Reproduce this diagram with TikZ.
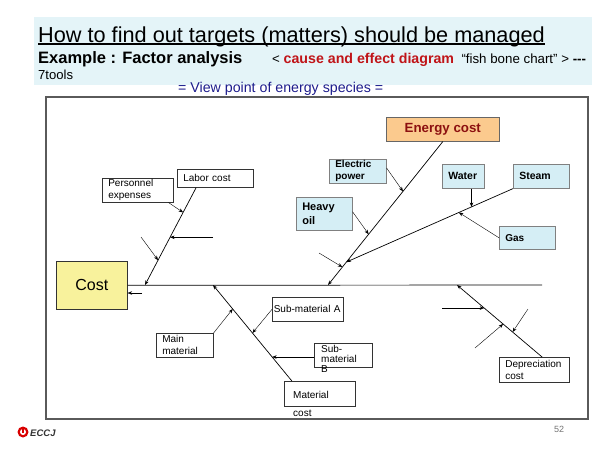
\documentclass[tikz,border=0pt]{standalone}
\usepackage{fontspec}
\setmainfont{Liberation Sans}
\usetikzlibrary{arrows.meta,calc}
\definecolor{headbg}{HTML}{E4F4F8}
\definecolor{boxblue}{HTML}{D5EEF5}
\definecolor{costyellow}{HTML}{F8F29C}
\definecolor{energyorange}{HTML}{FBCA8E}
\definecolor{darkred}{HTML}{8C1010}
\definecolor{causered}{HTML}{C01418}
\definecolor{navy}{HTML}{1C1C8C}
\definecolor{framegray}{HTML}{5A5A5A}

\begin{document}
\begin{tikzpicture}[x=1pt,y=-1pt,
    >={Stealth[length=4.5pt,width=3.5pt]},
    bone/.style={line width=0.7pt},
    box/.style={draw=black!80, line width=0.6pt, anchor=north west, inner xsep=6pt, inner ysep=0pt, align=left, font=\fontsize{10}{12}\selectfont},
    bluebox/.style={box, draw=black!50, fill=boxblue, font=\bfseries\fontsize{10.5}{12}\selectfont},
    head/.style={anchor=base west, inner sep=0pt}]
                \useasboundingbox (0,0) rectangle (600,450);

                \fill[headbg] (34,17) rectangle (592,85);
                \node[head, font=\fontsize{21.7}{24}\selectfont] (title) at (38,42) {How to find out targets (matters) should be managed};
                \draw[line width=1.1pt] ([yshift=-2pt]title.base west) -- ([yshift=-2pt]title.base east);
                \node[head, font=\bfseries\fontsize{16.5}{18}\selectfont] (example) at (38,63) {Example : Factor analysis};
                \node[head, font=\fontsize{13.3}{15}\selectfont] (tools) at (272,63) {< {\color{causered}\bfseries\fontsize{14.2}{15}\selectfont cause and effect diagram}\ \ “fish bone chart” > {\bfseries -{}-{}-}};
                \node[head, font=\fontsize{13.1}{15}\selectfont] (seven) at (38,79) {7tools};
                \node[head, font=\fontsize{14.2}{16}\selectfont, text=navy] (view) at (178,92) {= View point of energy species =};

                \draw[framegray, line width=1.1pt] (46,97) rectangle (588,419);

                \node[box, fill=costyellow, align=center, minimum width=71pt, minimum height=48pt, font=\fontsize{16}{18}\selectfont] (cost) at (56,261) {Cost};
                \coordinate (spR) at (542,285);
                \draw[bone] (cost.east) -- (spR);

                \node[box, text width=59pt, minimum height=24pt] (pers) at (102,178) {Personnel\\expenses};
                \node[box, text width=64pt, minimum height=18pt] (labor) at (177,169) {Labor cost};
                \coordinate (labS) at ($(labor.south west)!0.25!(labor.south east)$);
                \coordinate (labJ) at (145,285);
                \draw[bone,->] (labS) -- (labJ);
                \coordinate (l1) at ($(labS)!0.255!(labJ)$);
                \coordinate (l2) at ($(labS)!0.51!(labJ)$);
                \coordinate (l3) at ($(labS)!0.745!(labJ)$);
                \coordinate (f1) at ($(l2)+(43,0)$);
                \coordinate (f2) at (141,237);
                \coordinate (f3) at (142,293);
                \draw[->] ([xshift=-5pt]pers.south east) -- (l1);
                \draw[->] (f1) -- (l2);
                \draw[->] (f2) -- (l3);
                \draw[->] (f3) -- (cost.east |- f3);

                \node[box, fill=energyorange, draw=black!60, align=center, minimum width=113pt, minimum height=24pt, font=\bfseries\fontsize{13.3}{15}\selectfont, text=darkred] (energy) at (386,117) {Energy cost};
                \coordinate (enJ) at (328,285);
                \draw[bone,->] (energy.south) -- (enJ);
                \node[bluebox, text width=45pt, minimum height=24pt, font=\bfseries\fontsize{10}{12}\selectfont] (elec) at (329,159) {Electric\\power};
                \node[bluebox, text width=44pt, minimum height=33pt, font=\bfseries\fontsize{11}{14}\selectfont] (heavy) at (296,197) {Heavy\\oil};
                \node[bluebox, text width=30pt, minimum height=24pt] (water) at (442,164) {Water};
                \node[bluebox, text width=44pt, minimum height=24pt] (steam) at (513,164) {Steam};
                \node[bluebox, text width=44pt, minimum height=23pt, font=\bfseries\fontsize{10}{12}\selectfont] (gas) at (499,226) {Gas};
                \coordinate (enK) at ($(energy.south)!0.84!(enJ)$);
                \draw[bone,->] (steam.south west) -- (enK);
                \coordinate (e1) at ($(energy.south)!0.347!(enJ)$);
                \coordinate (e2) at ($(energy.south)!0.646!(enJ)$);
                \coordinate (e3) at ($(energy.south)!0.875!(enJ)$);
                \coordinate (f4) at (319,253);
                \draw[->] ([yshift=-9pt]elec.north east) -- (e1);
                \draw[->] ([yshift=2pt]heavy.east) -- (e2);
                \draw[->] (f4) -- (e3);
                \coordinate (s1) at ($(steam.south west)!0.249!(enK)$);
                \coordinate (s2) at ($(steam.south west)!0.325!(enK)$);
                \draw[->] (s1 |- water.south) -- (s1);
                \draw[->] (gas.west) -- (s2);

                \node[box, minimum width=71pt, minimum height=25pt] (matbox) at (284,381) {};
                \node[anchor=north west, inner sep=0pt, align=left, font=\fontsize{10}{18}\selectfont] (mattxt) at (293,391) {Material\\cost};
                \coordinate (matS) at ($(matbox.north west)!0.11!(matbox.north east)$);
                \coordinate (matJ) at (213,285);
                \draw[bone,->] (matS) -- (matJ);
                \node[box, text width=45pt, minimum height=24pt] (mainmat) at (156,333) {Main\\material};
                \node[box, inner xsep=1.5pt, text width=68pt, minimum height=24pt] (subA) at (272,297) {Sub-material A};
                \node[box, minimum width=58pt, minimum height=24pt] (subB) at (314,343) {};
                \node[anchor=north west, inner sep=0pt, align=left, font=\fontsize{10}{10}\selectfont] (subBtxt) at (321,345) {Sub-\\material\\B};
                \coordinate (m1) at ($(matS)!0.75!(matJ)$);
                \coordinate (m2) at ($(matS)!0.5!(matJ)$);
                \coordinate (m3) at ($(matS)!0.25!(matJ)$);
                \draw[->] (mainmat.north east) -- (m1);
                \draw[->] (subA.west) -- (m2);
                \draw[->] (subB.west |- m3) -- (m3);

                \node[box, text width=58pt, minimum height=25pt] (dep) at (499,357) {Depreciation\\cost};
                \coordinate (depS) at ($(dep.north west)!0.61!(dep.north east)$);
                \coordinate (depJ) at (457,285);
                \draw[bone,->] (depS) -- (depJ);
                \coordinate (d1) at ($(depS)!0.68!(depJ)$);
                \coordinate (d2) at ($(depS)!0.458!(depJ)$);
                \coordinate (d3) at ($(depS)!0.347!(depJ)$);
                \coordinate (f5) at ($(d1)+(-42,0)$);
                \coordinate (f6) at (475,348);
                \coordinate (f7) at (528,309);
                \draw[->] (f5) -- (d1);
                \draw[->] (f6) -- (d2);
                \draw[->] (f7) -- (d3);

                \fill[red!85!black] (23,432) circle (5.5);
                \fill[white] (23,432) circle (3);
                \fill[red!85!black] (22.2,428.5) rectangle (23.8,433);
                \node[head, font=\bfseries\itshape\fontsize{9.5}{11}\selectfont, text=black!80] (logo) at (30,436) {ECCJ};
                \node[font=\fontsize{9}{11}\selectfont, text=black!55] (page) at (559,429) {52};
            \end{tikzpicture}
\end{document}
